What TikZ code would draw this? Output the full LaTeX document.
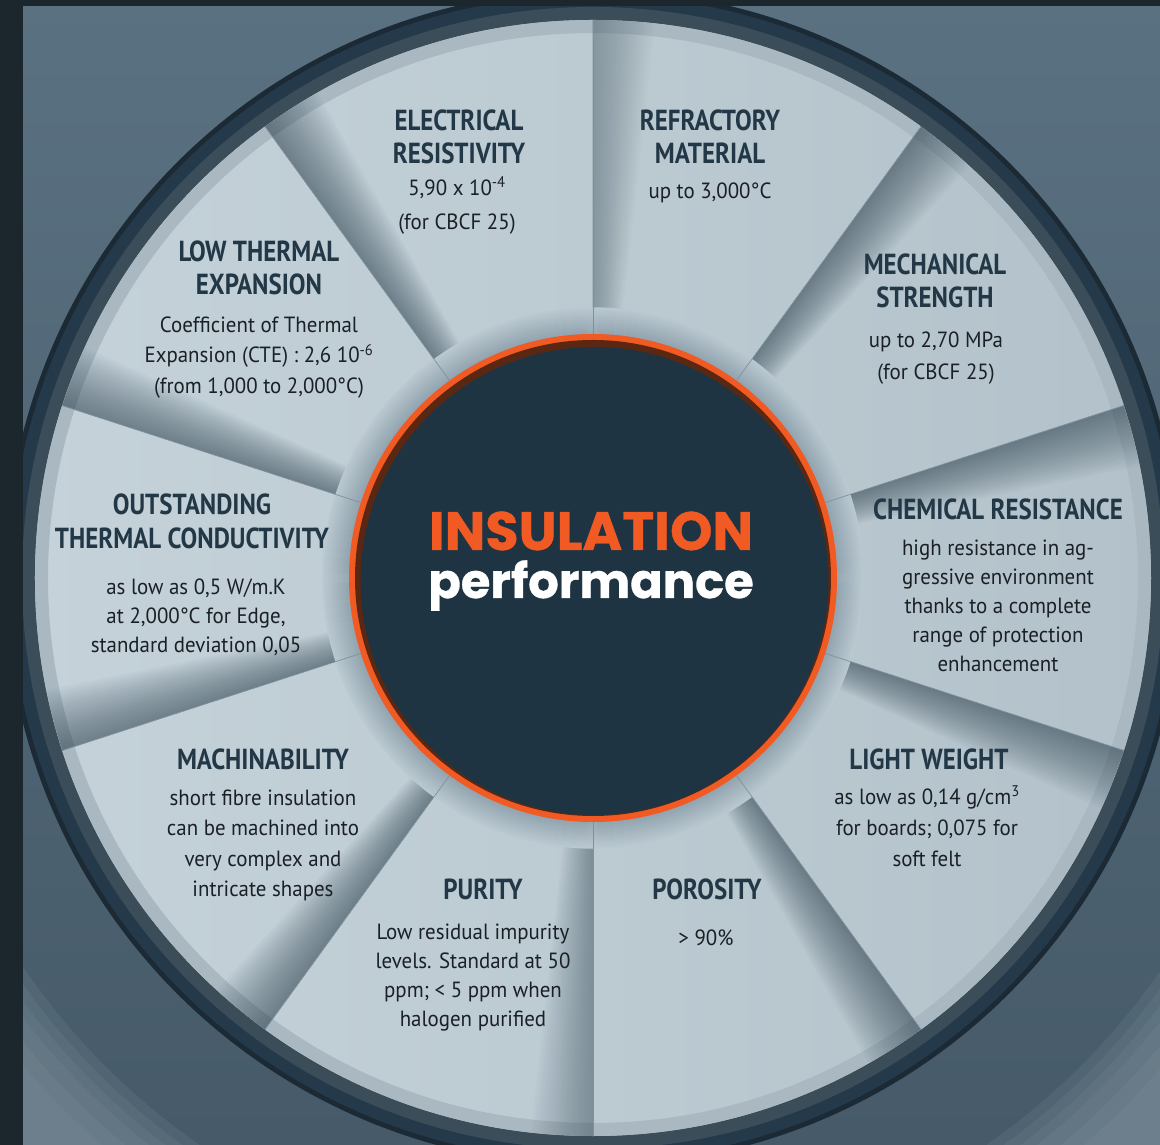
\documentclass[tikz,border=0pt]{standalone}
\usepackage{fontspec}
\setmainfont{PT Sans}
\newfontfamily\hdfont{PT Sans}[FakeStretch=0.86]
\newfontfamily\bdfont{PT Sans}[FakeStretch=0.95]
\newfontfamily\ctrfont{Poppins}[BoldFeatures={FakeBold=0.7}]
\definecolor{bgA}{HTML}{5A7181}
\definecolor{bgB}{HTML}{465A69}
\definecolor{bglight}{HTML}{9AABB5}
\definecolor{framec}{HTML}{1C262D}
\definecolor{ringdark}{HTML}{1B2A34}
\definecolor{ringnavy}{HTML}{24394A}
\definecolor{ringslate}{HTML}{3B4D59}
\definecolor{rimc}{HTML}{A9B8C1}
\definecolor{secL}{HTML}{C5D2DA}
\definecolor{secR}{HTML}{B3C2CA}
\definecolor{shadowc}{HTML}{2E4350}
\definecolor{hubout}{HTML}{BAC8D0}
\definecolor{hubin}{HTML}{8FA2AD}
\definecolor{orng}{HTML}{F15A22}
\definecolor{brownc}{HTML}{5A2812}
\definecolor{navyc}{HTML}{1F3442}
\definecolor{headc}{HTML}{233847}
\definecolor{bodyc}{HTML}{1A2026}
\definecolor{divline}{HTML}{7E919C}
\tikzset{
  hd/.style={font=\hdfont\bfseries\fontsize{29}{#1}\selectfont, text=headc, align=center, inner sep=0pt, anchor=north},
  hd/.default=33,
  bd/.style={font=\bdfont\fontsize{22}{#1}\selectfont, text=bodyc, align=center, inner sep=0pt, anchor=north},
  bd/.default=29,
  divider/.style={divline, line width=0.7pt},
}
\begin{document}
\begin{tikzpicture}[x=1pt,y=1pt]
\useasboundingbox (-593,-567) rectangle (567,578);
\clip (-593,-567) rectangle (567,578);
% background
\shade[top color=bgA, bottom color=bgB] (-593,-567) rectangle (567,578);
\begin{scope}
  \clip (-593,-567) rectangle (567,-40);
  \foreach \r/\o in {690/0.12,700/0.10,710/0.10,720/0.10,735/0.10,750/0.10}{
    \fill[bglight, fill opacity=\o, even odd rule] (0,0) circle[radius=900] (0,0) circle[radius=\r];
  }
\end{scope}
% outer ring
\fill[ringdark] (0,0) circle[radius=588];
\fill[ringnavy] (0,0) circle[radius=583];
\fill[ringslate] (0,0) circle[radius=571];
% sectors
\shade[left color=secL, right color=secR] (0,0) circle[radius=558];
\fill[rimc, even odd rule] (0,0) circle[radius=558] circle[radius=545];
% shadows on the clockwise side of each divider
\foreach \a/\s in {90/0.02,54/0.035,18/0.035,-18/0.035,-54/0.035,-90/0.025,-126/0.035,-162/0.035,162/0.035,126/0.035}{
  \foreach \k in {1,...,20}{
    \fill[shadowc, fill opacity=\s]
      (\a:270) -- (\a:558) arc[start angle=\a, end angle={\a-\k*0.32}, radius=558]
      -- ({\a-\k*0.32}:270) arc[start angle={\a-\k*0.32}, end angle=\a, radius=270] -- cycle;
  }
}
% hub ring
\foreach \r in {243,...,270}{
  \pgfmathsetmacro\p{(\r-243)/27*100}
  \draw[line width=1.4pt, color=hubout!\p!hubin] (0,0) circle[radius=\r];
}
% dividers
\foreach \a in {90,54,18,-18,-54,-90,-126,-162,162,126}{
  \draw[divider] (\a:244) -- (\a:558);
}
% orange ring and centre disc
\fill[orng] (0,0) circle[radius=244];
\fill[brownc] (0,0) circle[radius=238];
\fill[navyc] (1.5,-3) circle[radius=234];
% frame strips
\fill[framec] (-593,-567) rectangle (-570,578);
\fill[framec] (-593,572) rectangle (567,578);
% centre title
\node[font=\ctrfont\bfseries\fontsize{54}{54}\selectfont, text=orng, anchor=base, inner sep=0pt] (ins) at (-2,28) {INSULATION};
\node[font=\ctrfont\bfseries\fontsize{48}{48}\selectfont, text=white, anchor=base, inner sep=0pt] (perf) at (-2,-20) {performance};
% texts (pixel coordinates)
\begin{scope}[x=1pt,y=-1pt,shift={(-593pt,578pt)}]
\node[hd] (h1) at (459,110) {ELECTRICAL\\RESISTIVITY};
\node[bd=34] (b1) at (457,171.2) {\strut 5,90 x 10\textsuperscript{-4}\\(for CBCF 25)};
\node[hd] (h2) at (710,110) {REFRACTORY\\MATERIAL};
\node[bd] (b2) at (710,177.7) {\strut up to 3,000°C};
\node[hd] (h3) at (935,254) {MECHANICAL\\STRENGTH};
\node[bd=32] (b3) at (936,324.6) {\strut up to 2,70 MPa\\(for CBCF 25)};
\node[hd] (h4) at (998,499) {CHEMICAL RESISTANCE};
\node[bd] (b4) at (998,534.7) {\strut high resistance in ag-\\gressive environment\\thanks to a complete\\range of protection\\enhancement};
\node[hd] (h5) at (929,749) {LIGHT WEIGHT};
\node[bd=31] (b5) at (927,782.3) {\strut as low as 0,14 g/cm\textsuperscript{3}\\for boards; 0,075 for\\soft felt};
\node[hd] (h6) at (707,879) {POROSITY};
\node[bd] (b6) at (706,924.7) {\strut > 90\%};
\node[hd] (h7) at (483,879) {PURITY};
\node[bd] (b7) at (473,918.7) {\strut Low residual impurity\\levels. Standard at 50\\ppm; < 5 ppm when\\halogen purified};
\node[hd] (h8) at (263,749) {MACHINABILITY};
\node[bd=30.5] (b8) at (263,783.6) {\strut short fibre insulation\\can be machined into\\very complex and\\intricate shapes};
\node[hd=34] (h9) at (192,494) {OUTSTANDING\\THERMAL CONDUCTIVITY};
\node[bd] (b9) at (196,573.7) {\strut as low as 0,5 W/m.K\\at 2,000°C for Edge,\\standard deviation 0,05};
\node[hd] (h10) at (259,241) {LOW THERMAL\\EXPANSION};
\node[bd=30.5] (b10) at (259,310.6) {\strut Coefficient of Thermal\\Expansion (CTE) : 2,6 10\textsuperscript{-6}\\(from 1,000 to 2,000°C)};
\end{scope}
\end{tikzpicture}%
\end{document}
